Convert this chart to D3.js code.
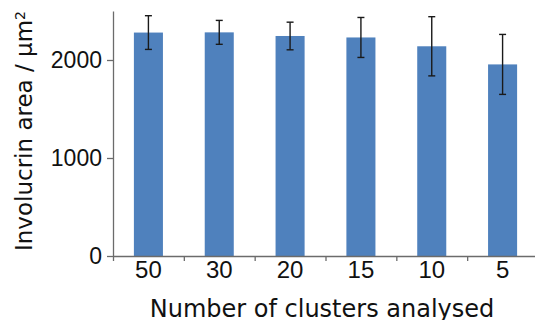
<!DOCTYPE html>
<html>
<head>
<meta charset="utf-8">
<script src="https://cdn.jsdelivr.net/npm/d3@7"></script>
<style>
  body { margin: 0; background: white; }
  svg { display: block; font-family: "DejaVu Sans", "Liberation Sans", Arial, sans-serif; }
</style>
</head>
<body>
<svg id="chart" width="535" height="320"></svg>
<script>
// Data
const clusters = ["50", "30", "20", "15", "10", "5"];
const meanArea = [2280, 2282, 2245, 2230, 2140, 1955];
const errArea = [172, 122, 141, 204, 302, 306];
const yTicks = [0, 1000, 2000];

const svg = d3.select("#chart");
const axisColor = "#6b6b6b";

const x = d3.scaleBand().domain(clusters).range([113, 538]).paddingInner(0.59).paddingOuter(0.295);
const xEdge = d3.scaleLinear().domain([0, clusters.length]).range([113, 538]);
const y = d3.scaleLinear().domain([0, 2500]).range([256, 11]);

const data = clusters.map((c, i) => ({ c, v: meanArea[i], e: errArea[i] }));

// Bars
svg.selectAll("rect.bar")
  .data(data)
  .enter()
  .append("rect")
  .attr("class", "bar")
  .attr("x", d => x(d.c))
  .attr("width", x.bandwidth())
  .attr("y", d => y(d.v))
  .attr("height", d => y(0) - y(d.v))
  .attr("fill", "#4f81bd");

// Error bars
const eb = svg.append("g").attr("stroke", "#1a1a1a").attr("stroke-width", 1.4);
data.forEach(d => {
  const cx = x(d.c) + x.bandwidth() / 2;
  eb.append("line").attr("x1", cx).attr("x2", cx).attr("y1", y(d.v + d.e)).attr("y2", y(d.v - d.e));
  [d.v + d.e, d.v - d.e].forEach(v => {
    eb.append("line").attr("x1", cx - 3.5).attr("x2", cx + 3.5).attr("y1", y(v)).attr("y2", y(v));
  });
});

// Y axis
const yAxis = svg.append("g")
  .attr("transform", "translate(113,0)")
  .call(d3.axisLeft(y).tickValues(yTicks).tickSize(6).tickSizeOuter(0).tickPadding(5).tickFormat(d3.format("d")));
yAxis.selectAll("text").style("font-size", "23px").attr("fill", "#111");

// X axis: boundary ticks
const xAxis = svg.append("g")
  .attr("transform", "translate(0,256)")
  .call(d3.axisBottom(xEdge).tickValues(d3.range(0, clusters.length + 1)).tickSize(5).tickSizeOuter(0).tickFormat(""));

// X labels
svg.append("g")
  .attr("transform", "translate(0,256)")
  .call(d3.axisBottom(x).tickSize(0).tickPadding(5))
  .call(g => g.select(".domain").remove())
  .selectAll("text").style("font-size", "24px").attr("fill", "#111");

[yAxis, xAxis].forEach(g => {
  g.selectAll("path, line").attr("stroke", axisColor).attr("stroke-width", 1.3);
});

// Axis titles
svg.append("text")
  .attr("x", 322)
  .attr("y", 317)
  .attr("text-anchor", "middle")
  .style("font-size", "24px")
  .attr("fill", "#111")
  .text("Number of clusters analysed");

const yt = svg.append("text")
  .attr("transform", "translate(32,131) rotate(-90)")
  .attr("text-anchor", "middle")
  .style("font-size", "23px")
  .attr("fill", "#111");
yt.append("tspan").text("Involucrin area / µm");
yt.append("tspan").attr("dy", "-0.5em").style("font-size", "14px").text("2");
</script>
</body>
</html>
